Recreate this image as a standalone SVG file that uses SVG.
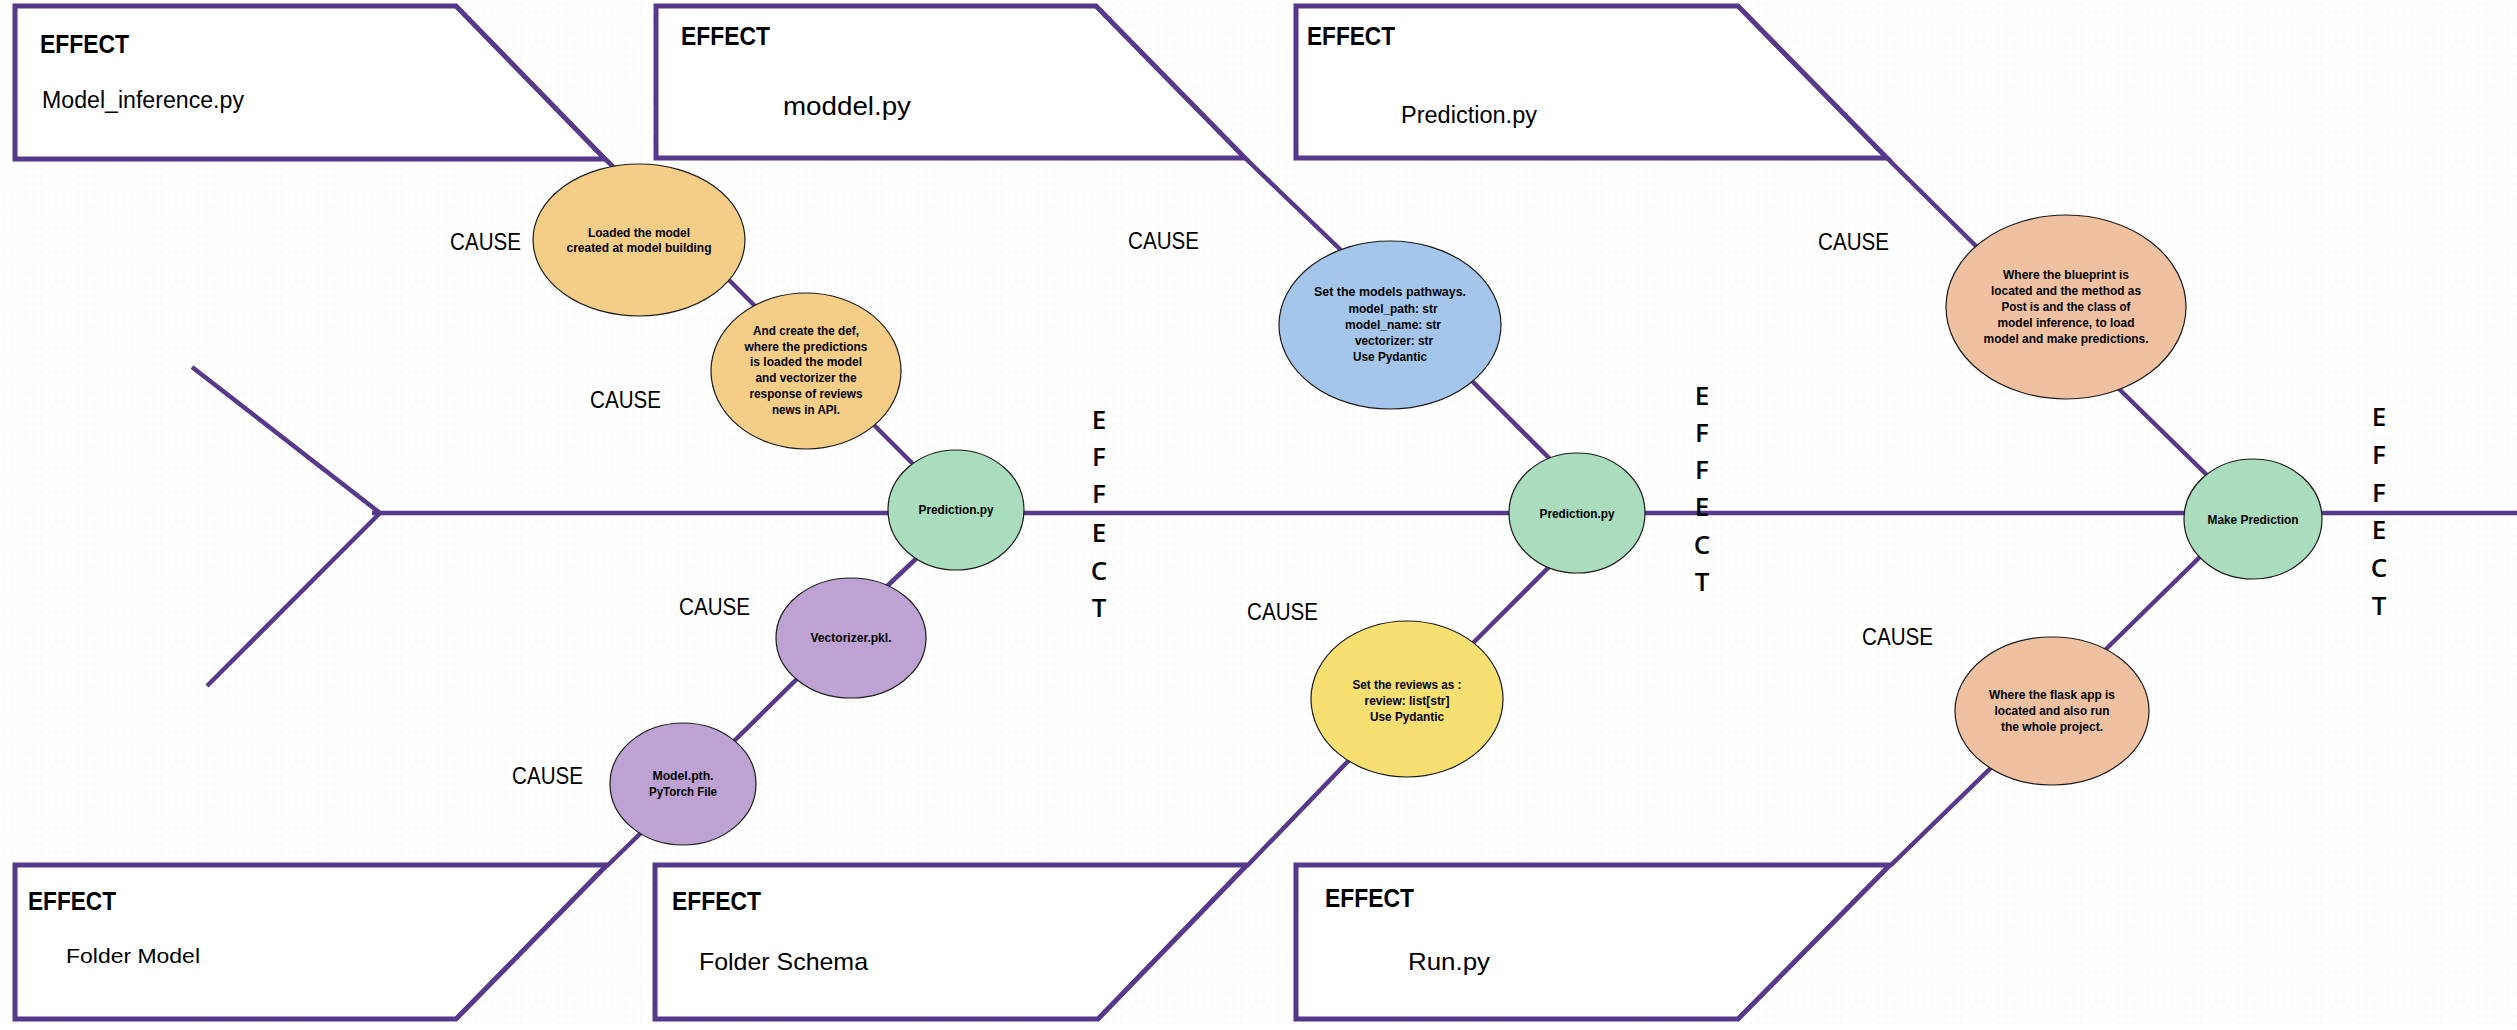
<svg xmlns="http://www.w3.org/2000/svg" width="2517" height="1030" viewBox="0 0 2517 1030">
<defs>
<pattern id="dots" x="0" y="0" width="7.5" height="7.5" patternUnits="userSpaceOnUse">
<circle cx="3.75" cy="3.75" r="0.7" fill="#e9e9ee"/>
</pattern>
<style>
.box{fill:#ffffff;stroke:#57398c;stroke-width:5;stroke-linejoin:miter}
.ln{stroke:#57398c;stroke-width:4.5;fill:none;stroke-linecap:butt}
.nd{stroke:#1a1a1a;stroke-width:1.2}
.gold{fill:#f4cd86}.green{fill:#a9ddbd}.lav{fill:#bea2d3}.blue{fill:#a3c6ea}.yel{fill:#f7df72}.peach{fill:#efc1a0}
.eff{font-family:"Liberation Sans",Arial,sans-serif;font-weight:bold;font-size:26px;fill:#000}
.lbl{font-family:"Liberation Sans",Arial,sans-serif;font-size:23px;fill:#000}
.cause{font-family:"Liberation Sans",Arial,sans-serif;font-size:24px;fill:#000}
.vert{font-family:"Open Sans","Liberation Sans",sans-serif;font-weight:600;font-size:26px;fill:#000;text-anchor:middle}
.t{font-family:"Liberation Sans",Arial,sans-serif;font-weight:bold;font-size:13px;fill:#000;text-anchor:middle}
</style>
</defs>
<rect width="2517" height="1030" fill="#ffffff"/>
<rect width="2517" height="1030" fill="url(#dots)"/>

<g id="connectors">
<line class="ln" x1="192" y1="367" x2="380" y2="513"/>
<line class="ln" x1="207" y1="686" x2="380" y2="513"/>
<line class="ln" x1="372" y1="513" x2="2517" y2="513"/>
<line class="ln" x1="605" y1="159" x2="620" y2="173"/>
<line class="ln" x1="725" y1="276" x2="760" y2="311"/>
<line class="ln" x1="870" y1="421" x2="918" y2="469"/>
<line class="ln" x1="920" y1="555" x2="883" y2="590"/>
<line class="ln" x1="801" y1="675" x2="730" y2="745"/>
<line class="ln" x1="646" y1="828" x2="607" y2="866"/>
<line class="ln" x1="1245" y1="158" x2="1345" y2="254"/>
<line class="ln" x1="1468" y1="377" x2="1553" y2="462"/>
<line class="ln" x1="1553" y1="563" x2="1470" y2="646"/>
<line class="ln" x1="1354" y1="755" x2="1247" y2="866"/>
<line class="ln" x1="1887" y1="158" x2="1982" y2="252"/>
<line class="ln" x1="2115" y1="385" x2="2212" y2="480"/>
<line class="ln" x1="2206" y1="551" x2="2102" y2="653"/>
<line class="ln" x1="1997" y1="762" x2="1890" y2="866"/>
</g>

<g id="effect-model-inference">
<polygon class="box" points="15,6 456,6 605,159 15,159"/>
<text class="eff" x="40" y="53" textLength="89" lengthAdjust="spacingAndGlyphs">EFFECT</text>
<text class="lbl" x="42" y="108" textLength="202" lengthAdjust="spacingAndGlyphs">Model_inference.py</text>
</g>
<g id="effect-moddel">
<polygon class="box" points="656,6 1096,6 1245,158 656,158"/>
<text class="eff" x="681" y="45" textLength="89" lengthAdjust="spacingAndGlyphs">EFFECT</text>
<text class="lbl" style="font-size:25px" x="783" y="115" textLength="128" lengthAdjust="spacingAndGlyphs">moddel.py</text>
</g>
<g id="effect-prediction">
<polygon class="box" points="1296,6 1738,6 1887,158 1296,158"/>
<text class="eff" x="1307" y="45" textLength="88" lengthAdjust="spacingAndGlyphs">EFFECT</text>
<text class="lbl" x="1401" y="123" textLength="136" lengthAdjust="spacingAndGlyphs">Prediction.py</text>
</g>
<g id="effect-folder-model">
<polygon class="box" points="15,865 607,865 456,1019 15,1019"/>
<text class="eff" x="28" y="910" textLength="88" lengthAdjust="spacingAndGlyphs">EFFECT</text>
<text class="lbl" style="font-size:21px" x="66" y="963" textLength="134" lengthAdjust="spacingAndGlyphs">Folder Model</text>
</g>
<g id="effect-folder-schema">
<polygon class="box" points="655,865 1247,865 1098,1019 655,1019"/>
<text class="eff" x="672" y="910" textLength="89" lengthAdjust="spacingAndGlyphs">EFFECT</text>
<text class="lbl" style="font-size:24px" x="699" y="970" textLength="169" lengthAdjust="spacingAndGlyphs">Folder Schema</text>
</g>
<g id="effect-run">
<polygon class="box" points="1296,865 1890,865 1738,1019 1296,1019"/>
<text class="eff" x="1325" y="907" textLength="89" lengthAdjust="spacingAndGlyphs">EFFECT</text>
<text class="lbl" style="font-size:24px" x="1408" y="970" textLength="82" lengthAdjust="spacingAndGlyphs">Run.py</text>
</g>

<g id="cause-labels">
<text class="cause" x="450" y="250" textLength="71" lengthAdjust="spacingAndGlyphs">CAUSE</text>
<text class="cause" x="590" y="408" textLength="71" lengthAdjust="spacingAndGlyphs">CAUSE</text>
<text class="cause" x="679" y="615" textLength="71" lengthAdjust="spacingAndGlyphs">CAUSE</text>
<text class="cause" x="512" y="784" textLength="71" lengthAdjust="spacingAndGlyphs">CAUSE</text>
<text class="cause" x="1128" y="249" textLength="71" lengthAdjust="spacingAndGlyphs">CAUSE</text>
<text class="cause" x="1247" y="620" textLength="71" lengthAdjust="spacingAndGlyphs">CAUSE</text>
<text class="cause" x="1818" y="250" textLength="71" lengthAdjust="spacingAndGlyphs">CAUSE</text>
<text class="cause" x="1862" y="645" textLength="71" lengthAdjust="spacingAndGlyphs">CAUSE</text>
</g>

<g id="effect-vertical-1">
<text class="vert" x="1099" y="429">E</text><text class="vert" x="1099" y="466">F</text><text class="vert" x="1099" y="503">F</text><text class="vert" x="1099" y="542">E</text><text class="vert" x="1099" y="580">C</text><text class="vert" x="1099" y="617">T</text>
</g>
<g id="effect-vertical-2">
<text class="vert" x="1702" y="405">E</text><text class="vert" x="1702" y="442">F</text><text class="vert" x="1702" y="479">F</text><text class="vert" x="1702" y="516">E</text><text class="vert" x="1702" y="554">C</text><text class="vert" x="1702" y="591">T</text>
</g>
<g id="effect-vertical-3">
<text class="vert" x="2379" y="426">E</text><text class="vert" x="2379" y="464">F</text><text class="vert" x="2379" y="502">F</text><text class="vert" x="2379" y="539">E</text><text class="vert" x="2379" y="577">C</text><text class="vert" x="2379" y="615">T</text>
</g>

<g id="node-loaded-model">
<ellipse class="nd gold" cx="639" cy="240" rx="106" ry="76"/>
<text class="t" x="639" y="237" textLength="102" lengthAdjust="spacingAndGlyphs">Loaded the model</text>
<text class="t" x="639" y="252" textLength="145" lengthAdjust="spacingAndGlyphs">created at model building</text>
</g>
<g id="node-create-def">
<ellipse class="nd gold" cx="806" cy="371" rx="95" ry="78"/>
<text class="t" x="806" y="335" textLength="106" lengthAdjust="spacingAndGlyphs">And create the def,</text>
<text class="t" x="806" y="351" textLength="123" lengthAdjust="spacingAndGlyphs">where the predictions</text>
<text class="t" x="806" y="366" textLength="112" lengthAdjust="spacingAndGlyphs">is loaded the model</text>
<text class="t" x="806" y="382" textLength="101" lengthAdjust="spacingAndGlyphs">and vectorizer the</text>
<text class="t" x="806" y="398" textLength="113" lengthAdjust="spacingAndGlyphs">response of reviews</text>
<text class="t" x="806" y="414" textLength="68" lengthAdjust="spacingAndGlyphs">news in API.</text>
</g>
<g id="node-prediction-1">
<ellipse class="nd green" cx="956" cy="510" rx="68" ry="60"/>
<text class="t" x="956" y="514" textLength="75" lengthAdjust="spacingAndGlyphs">Prediction.py</text>
</g>
<g id="node-vectorizer">
<ellipse class="nd lav" cx="851" cy="638" rx="75" ry="60"/>
<text class="t" x="851" y="642" textLength="81" lengthAdjust="spacingAndGlyphs">Vectorizer.pkl.</text>
</g>
<g id="node-model-pth">
<ellipse class="nd lav" cx="683" cy="784" rx="73" ry="61"/>
<text class="t" x="683" y="780" textLength="61" lengthAdjust="spacingAndGlyphs">Model.pth.</text>
<text class="t" x="683" y="796" textLength="68" lengthAdjust="spacingAndGlyphs">PyTorch File</text>
</g>
<g id="node-model-pathways">
<ellipse class="nd blue" cx="1390" cy="325" rx="111" ry="84"/>
<text class="t" x="1390" y="296" textLength="152" lengthAdjust="spacingAndGlyphs">Set  the  models pathways.</text>
<text class="t" x="1393" y="313" textLength="89" lengthAdjust="spacingAndGlyphs">model_path: str</text>
<text class="t" x="1393" y="329" textLength="96" lengthAdjust="spacingAndGlyphs">model_name: str</text>
<text class="t" x="1394" y="345" textLength="78" lengthAdjust="spacingAndGlyphs">vectorizer: str</text>
<text class="t" x="1390" y="361" textLength="74" lengthAdjust="spacingAndGlyphs">Use Pydantic</text>
</g>
<g id="node-prediction-2">
<ellipse class="nd green" cx="1577" cy="513" rx="68" ry="60"/>
<text class="t" x="1577" y="518" textLength="75" lengthAdjust="spacingAndGlyphs">Prediction.py</text>
</g>
<g id="node-reviews">
<ellipse class="nd yel" cx="1407" cy="699" rx="96" ry="78"/>
<text class="t" x="1407" y="689" textLength="109" lengthAdjust="spacingAndGlyphs">Set the reviews as :</text>
<text class="t" x="1407" y="705" textLength="85" lengthAdjust="spacingAndGlyphs">review: list[str]</text>
<text class="t" x="1407" y="721" textLength="74" lengthAdjust="spacingAndGlyphs">Use Pydantic</text>
</g>
<g id="node-blueprint">
<ellipse class="nd peach" cx="2066" cy="307" rx="120" ry="92"/>
<text class="t" x="2066" y="279" textLength="126" lengthAdjust="spacingAndGlyphs">Where the blueprint is</text>
<text class="t" x="2066" y="295" textLength="150" lengthAdjust="spacingAndGlyphs">located and the method as</text>
<text class="t" x="2066" y="311" textLength="129" lengthAdjust="spacingAndGlyphs">Post is and the class of</text>
<text class="t" x="2066" y="327" textLength="137" lengthAdjust="spacingAndGlyphs">model inference, to load</text>
<text class="t" x="2066" y="343" textLength="165" lengthAdjust="spacingAndGlyphs">model and make predictions.</text>
</g>
<g id="node-make-prediction">
<ellipse class="nd green" cx="2253" cy="519" rx="69" ry="60"/>
<text class="t" x="2253" y="524" textLength="91" lengthAdjust="spacingAndGlyphs">Make Prediction</text>
</g>
<g id="node-flask-app">
<ellipse class="nd peach" cx="2052" cy="711" rx="97" ry="74"/>
<text class="t" x="2052" y="699" textLength="126" lengthAdjust="spacingAndGlyphs">Where the flask app is</text>
<text class="t" x="2052" y="715" textLength="115" lengthAdjust="spacingAndGlyphs">located and also run</text>
<text class="t" x="2052" y="731" textLength="102" lengthAdjust="spacingAndGlyphs">the whole project.</text>
</g>
</svg>
